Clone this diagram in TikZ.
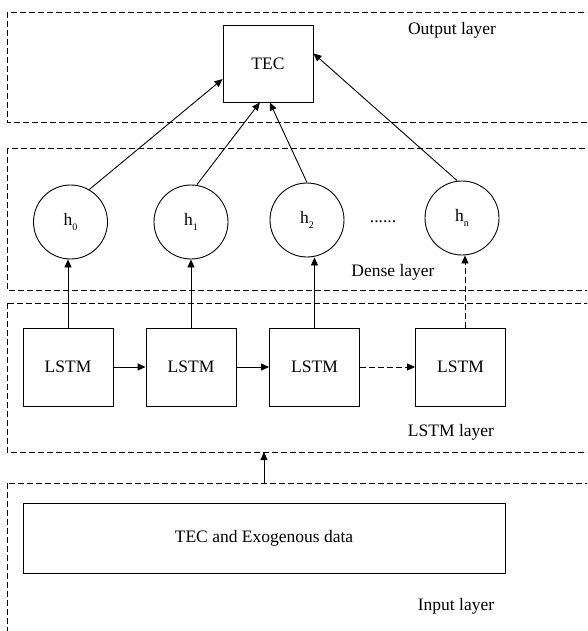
\documentclass[tikz,border=0pt]{standalone}
\usepackage{fontspec}
\setmainfont{Liberation Serif}
\usetikzlibrary{arrows.meta,calc}
\newcommand{\hsub}[1]{h\raisebox{-0.6ex}{\fontsize{10}{10}\selectfont #1}}
\begin{document}
\begin{tikzpicture}[x=1pt,y=-1pt,
  font=\fontsize{17.5}{20}\selectfont,
  layer/.style={draw, line width=0.9pt, dash pattern=on 6pt off 3pt},
  box/.style={draw, line width=0.9pt, minimum width=90pt, minimum height=78pt, inner sep=0pt},
  neuron/.style={draw, circle, line width=0.9pt, minimum size=74pt, inner sep=0pt},
  conn/.style={line width=0.9pt, -{Triangle[length=8pt,width=7pt]}},
  lbl/.style={inner sep=0pt}]
\clip (0,0) rectangle (587,631);

% layer frames
\draw[layer] (7,12) rectangle (640,122);
\draw[layer] (7,148) rectangle (640,290);
\draw[layer] (7,303) rectangle (640,452);
\draw[layer] (7,483) rectangle (640,700);

\node[lbl] at (452,30) {Output layer};
\node[lbl] at (393,272) {Dense layer};
\node[lbl] at (451,432) {LSTM layer};
\node[lbl] at (456,606) {Input layer};

% output
\node[box, minimum width=90pt, minimum height=77pt] (tec) at (268,63.5) {TEC};

% dense neurons
\node[neuron] (h0) at (70.5,222) {\hsub{0}};
\node[neuron] (h1) at (191,222) {\hsub{1}};
\node[neuron] (h2) at (307,220) {\hsub{2}};
\node[neuron] (hn) at (462,218) {\hsub{n}};
\node[lbl] (dots) at (383,222) {......};

% LSTM cells
\node[box] (l1) at (68,367) {LSTM};
\node[box] (l2) at (191,367) {LSTM};
\node[box] (l3) at (314.5,367) {LSTM};
\node[box] (l4) at (460.5,367) {LSTM};

% input
\node[box, minimum width=482pt, minimum height=70pt] (in) at (264,538) {TEC and Exogenous data};

% connectors into the output cell
\draw[conn] (h0.60) -- ($(tec.south west)!0.3!(tec.north west)$);
\draw[conn] (h1.north) ++(6,0) -- ($(tec.south west)!0.41!(tec.south east)$);
\draw[conn] (h2.north) -- ($(tec.south west)!0.52!(tec.south east)$);
\draw[conn] (hn.north) ++(-5,0) -- ($(tec.south east)!0.63!(tec.north east)$);

% LSTM to dense
\draw[conn] (l1.north) -- (l1.north |- h0.south);
\draw[conn] (l2.north) -- (l2.north |- h1.south);
\draw[conn] (l3.north) -- (l3.north |- h2.south);
\draw[conn, dash pattern=on 6pt off 3pt] (l4.north) ++(4.5,0) coordinate (l4t) -- (l4t |- hn.south);

% recurrent chain
\draw[conn] (l1) -- (l2);
\draw[conn] (l2) -- (l3);
\draw[conn, dash pattern=on 6pt off 3pt] (l3) -- (l4);

% input layer feeds the LSTM layer
\coordinate (inTop) at (264,483);
\coordinate (lstmBot) at (264,452);
\draw[conn] (inTop) -- (lstmBot);
\end{tikzpicture}
\end{document}
